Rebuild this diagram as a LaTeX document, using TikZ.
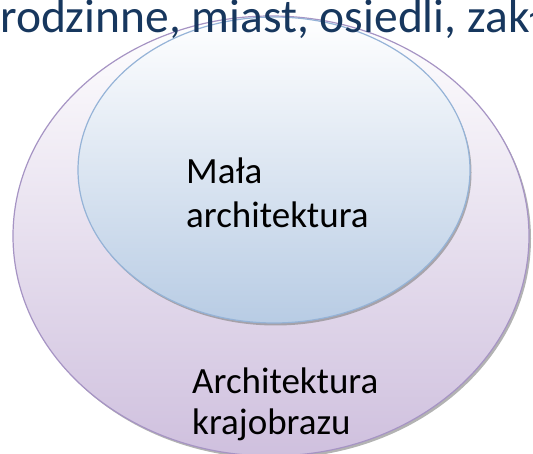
\documentclass[tikz,border=0pt]{standalone}
\usepackage{fontspec}
\setmainfont{Carlito}
\usepackage{tikz}
\usetikzlibrary{shapes,positioning,shadows}
\definecolor{setpurple}{RGB}{166,148,196}
\definecolor{setlilac}{RGB}{207,192,222}
\definecolor{setblue}{RGB}{149,179,215}
\definecolor{setsky}{RGB}{184,204,228}
\definecolor{headblue}{RGB}{23,55,94}
\tikzstyle{outerset} = [ellipse, draw=setpurple, line width=1.2pt, top color=white, bottom color=setlilac, drop shadow={shadow xshift=2pt, shadow yshift=-2.5pt, fill=black!50, opacity=.6}, minimum width=516pt, minimum height=440pt, inner sep=0pt]
\tikzstyle{innerset} = [ellipse, draw=setblue, line width=1.2pt, top color=white, bottom color=setsky, drop shadow={shadow xshift=1.5pt, shadow yshift=-2.5pt, fill=black!50, opacity=.6}, minimum width=392pt, minimum height=306pt, inner sep=0pt]
\tikzstyle{setlabel} = [draw=none, fill=none, inner sep=0pt, text=black, font=\fontsize{37}{44}\selectfont]
\tikzstyle{headline} = [draw=none, fill=none, inner sep=0pt, text=headblue, font=\fontsize{47.5}{56}\selectfont]

\begin{document}
\begin{tikzpicture}[x=1pt, y=-1pt]

\useasboundingbox (0,0) rectangle (533,454);
\clip (0,0) rectangle (533,454);

% sets =============================
\node[outerset] (krajobraz) at (271,236) {};
\node[innerset] (mala) at (274,170) {};

% labels
\node[setlabel, anchor=base west] (malaA) at (186,184) {Mała};
\node[setlabel, below=44pt of malaA.base west, anchor=base west] (malaB) {architektura};
\node[setlabel, anchor=base west] (krajA) at (192,393) {Architektura};
\node[setlabel, below=41pt of krajA.base west, anchor=base west] (krajB) {krajobrazu};

% heading
\node[headline, anchor=base west] (heading) at (0,33) {rodzinne, miast, osiedli, zakł};

\end{tikzpicture}
\end{document}
